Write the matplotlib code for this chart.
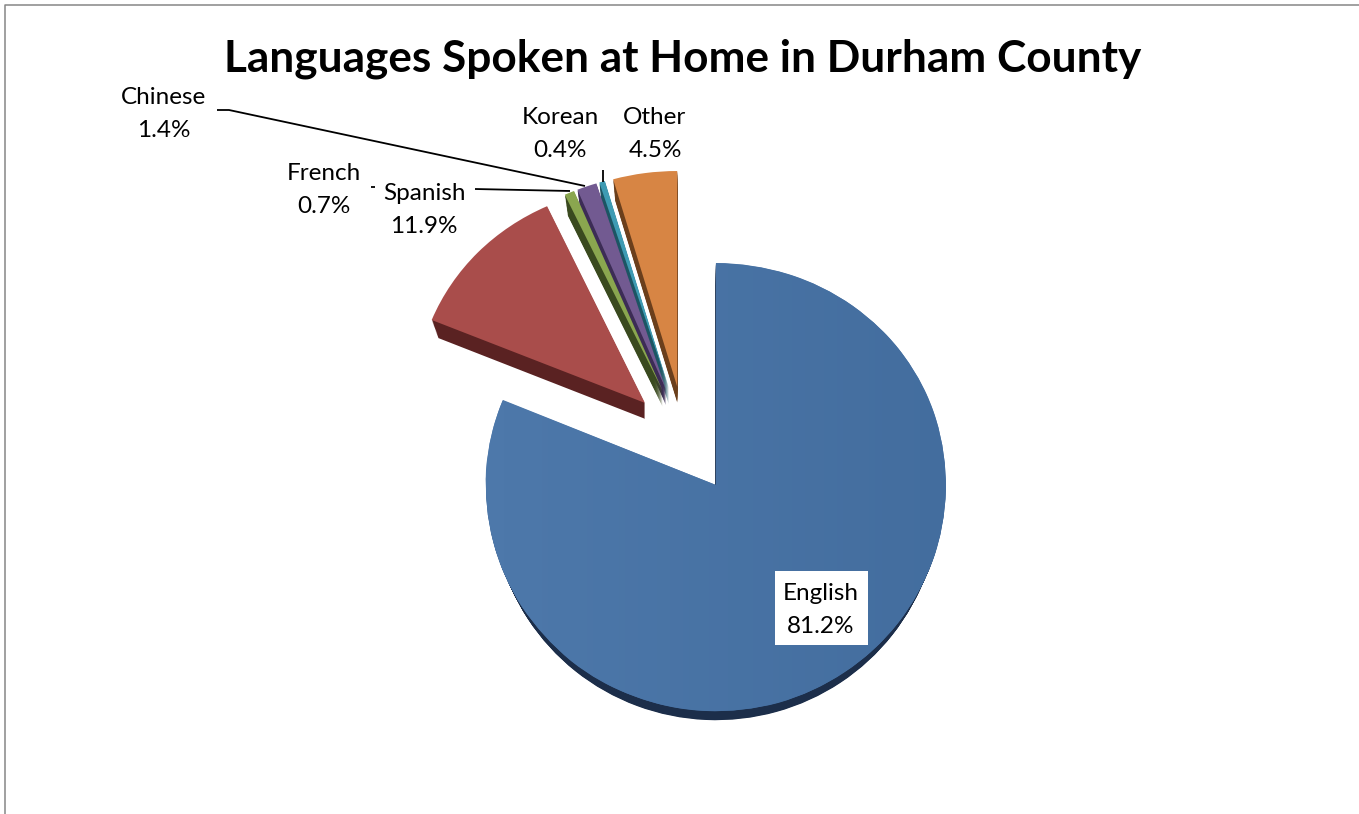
import numpy as np
import matplotlib
matplotlib.use("Agg")
import matplotlib.pyplot as plt
from matplotlib.colors import LinearSegmentedColormap
from matplotlib.lines import Line2D
from matplotlib.patches import Rectangle

# Language shares, clockwise from 12 o'clock
languages = ["English", "Spanish", "French", "Chinese", "Korean", "Other"]
shares = [81.2, 11.9, 0.7, 1.4, 0.4, 4.5]
top_colors = ["#4A74A6", "#A94D4B", "#8AA64F", "#725A91", "#3E9BB3", "#D78544"]
side_colors = ["#1C2E4A", "#5A2222", "#3A4A1F", "#3C2C55", "#1C5563", "#6B3F1C"]
explode = [0.24] * 6

title = "Languages Spoken at Home in Durham County"
W, H = 1359, 814
CX, CY = 685.0, 440.0      # pie centre in pixels
RX, RY = 230.0, 226.0      # pixels per unit radius
BULGE = 7.0                # foreshortening of the far half of the tilted pie

plt.rcParams["font.family"] = ["Lato", "DejaVu Sans"]
fig = plt.figure(figsize=(W / 100, H / 100), dpi=100, facecolor="white")
ax = fig.add_axes([0, 0, 1, 1])


def tilt(y):
    y = np.asarray(y, dtype=float)
    return RY * y - BULGE * np.maximum(y, 0) ** 2


def untilt(v):
    v = np.asarray(v, dtype=float)
    up = (RY - np.sqrt(np.maximum(RY ** 2 - 4 * BULGE * np.maximum(v, 0), 0))) / (2 * BULGE)
    return np.where(v > 0, up, v / RY)


# Extruded side walls, deepest layer first
n_layers = 16
for k in range(n_layers, 0, -1):
    f = k / n_layers
    ax.pie(shares, explode=explode, colors=side_colors, startangle=90,
           counterclock=False, center=(0, -f * 16 / RY), radius=1 - 0.03 * f,
           wedgeprops=dict(linewidth=0.4, edgecolor="none"))

# Top faces
wedges, _ = ax.pie(shares, explode=explode, colors=top_colors, startangle=90,
                   counterclock=False, center=(0, 0), radius=1.0,
                   wedgeprops=dict(linewidth=0))

# Soft left-to-right shading across the large slice
shade = LinearSegmentedColormap.from_list("shade", ["#4D78AA", "#426C9D"])
xs = np.linspace(-0.9, 1.3, 80)
sheen = ax.pcolormesh(xs, [-1.4, 1.2], [0.5 * (xs[:-1] + xs[1:])], cmap=shade,
                      shading="flat", linewidth=0)
sheen.set_clip_path(wedges[0])

ax.set_aspect("auto")
ax.set_yscale("function", functions=(tilt, untilt))
ax.set_xlim(-CX / RX, (W - CX) / RX)
ax.set_ylim((CY - H) / RY, float(untilt(CY)))
ax.set_xticks([])
ax.set_yticks([])
ax.minorticks_off()
ax.set_frame_on(False)


def fx(px):
    return px / W


def fy(py):
    return 1 - py / H


def leader(xs, ys):
    fig.add_artist(Line2D([fx(x) for x in xs], [fy(y) for y in ys], color="black",
                          lw=1.3, transform=fig.transFigure, solid_capstyle="butt"))


# Outer frame, open at the right and bottom
fig.add_artist(Line2D([fx(5), fx(5), 1], [0, fy(5), fy(5)], color="#868686", lw=1.1,
                      transform=fig.transFigure))

fig.text(fx(683), fy(59), title, ha="center", va="center", fontsize=31.8, fontweight="bold")

fig.add_artist(Rectangle((fx(775), fy(645)), 93 / W, 74 / H, transform=fig.transFigure,
                         facecolor="white", edgecolor="none"))

label_xy = {"English": (821, 610), "Spanish": (424, 210), "French": (324, 190),
            "Chinese": (164, 114), "Korean": (560, 134), "Other": (655, 134)}
for name, value in zip(languages, shares):
    x, y = label_xy[name]
    fig.text(fx(x), fy(y), f"{name}\n{value:.1f}%", ha="center", va="center",
             fontsize=17.5, linespacing=1.72, color="black", zorder=5)

leader([217, 229, 585], [110, 110, 186])
leader([475, 570], [189, 191])
leader([371, 375], [187, 187])
leader([603, 603], [170, 182])

fig.savefig("out.png", dpi=100)
